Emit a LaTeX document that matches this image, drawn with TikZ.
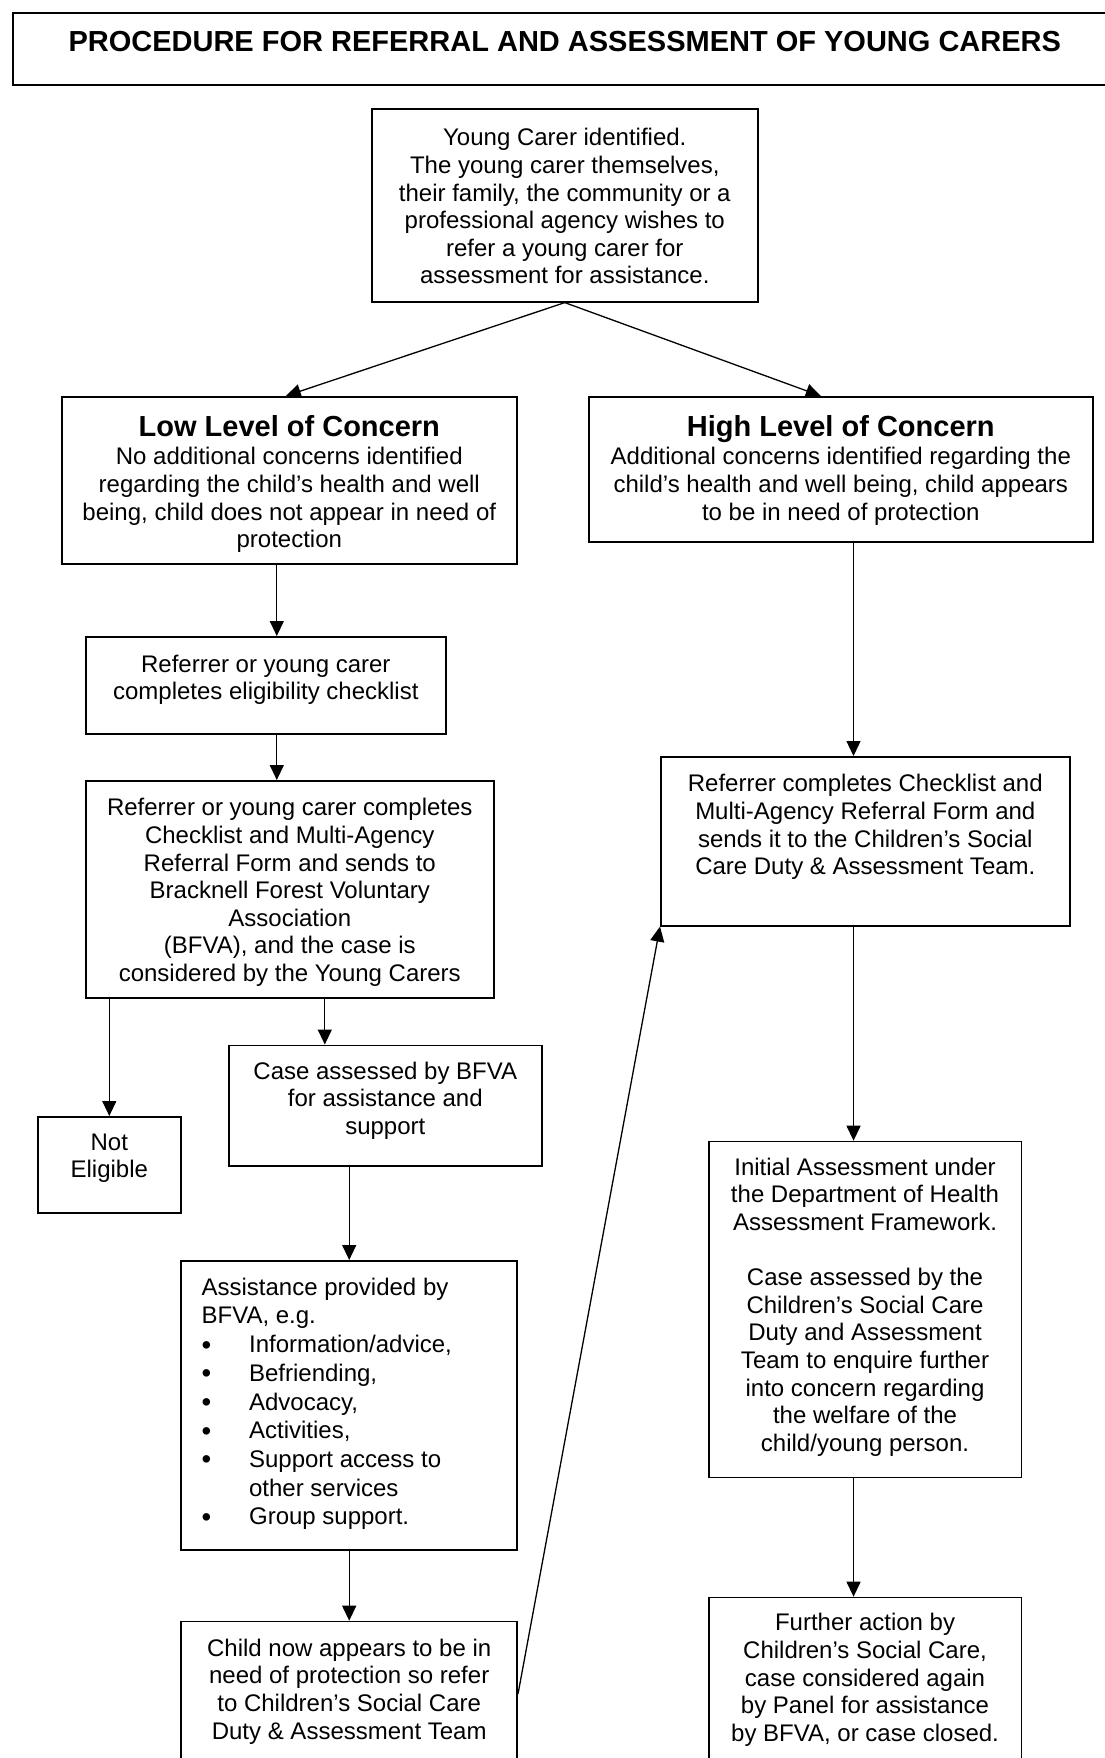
\documentclass[tikz,border=0pt]{standalone}
\usepackage{fontspec}
\usepackage{graphicx}
\setmainfont{Liberation Sans}
\usetikzlibrary{arrows.meta}
% box text: width, height, top gap, text
\newcommand{\flowtext}[4]{\parbox[c][#2pt][t]{#1pt}{\centering\vspace*{#3pt}#4}}
\newcommand{\flowhead}[1]{{\bfseries\fontsize{29}{33}\selectfont #1\par}\vspace{1pt}}
\newcommand{\flowitem}{\makebox[47.5pt][l]{\raisebox{-1.5pt}{\scalebox{1.15}{\textbullet}}}}
\tikzset{
  flow/.style={draw, line width=1.6pt, inner sep=0pt, anchor=north west},
  arr/.style={line width=1.3pt, -{Triangle[length=15pt,width=14pt]}},
}
\begin{document}
\begin{tikzpicture}[x=1pt, y=-1pt, font=\fontsize{24}{27.6}\selectfont]
\useasboundingbox (0,0) rectangle (1105,1758);
\clip (0,0) rectangle (1105,1758);
% title
\node[flow] (title) at (12,12) {\flowtext{1104}{72}{18.5}{\bfseries\fontsize{29}{33}\selectfont PROCEDURE FOR REFERRAL AND ASSESSMENT OF YOUNG CARERS}};
\node[flow] (young) at (371,108) {\flowtext{386}{193}{19.7}{Young Carer identified.\\The young carer themselves,\\their family, the community or a\\professional agency wishes to\\refer a young carer for\\assessment for assistance.}};
% left side
\node[flow] (low) at (61,396) {\flowtext{455}{167}{18.4}{\flowhead{Low Level of Concern}No additional concerns identified\\regarding the child’s health and well\\being, child does not appear in need of\\protection}};
\node[flow] (elig) at (85,636) {\flowtext{360}{97}{18.2}{Referrer or young carer\\completes eligibility checklist}};
\node[flow] (bfva) at (85,780) {\flowtext{408}{217}{17.7}{Referrer or young carer completes\\Checklist and Multi-Agency\\Referral Form and sends to\\Bracknell Forest Voluntary\\Association\\(BFVA), and the case is\\considered by the Young Carers}};
\node[flow] (noteli) at (37,1116) {\flowtext{143}{96}{16.7}{Not\\Eligible}};
\node[flow] (case) at (228,1044.5) {\flowtext{313}{120.5}{16.5}{Case assessed by BFVA\\for assistance and\\support}};
\node[flow] (assist) at (180.4,1260) {\flowtext{336}{289}{17}{\raggedright\leftskip=20.4pt\baselineskip=28.7pt
  Assistance provided by\\BFVA, e.g.\\
  \flowitem Information/advice,\\
  \flowitem Befriending,\\
  \flowitem Advocacy,\\
  \flowitem Activities,\\
  \flowitem Support access to\\
  \hspace*{47.5pt}other services\\
  \flowitem Group support.}};
\node[flow] (child) at (180.4,1620.7) {\flowtext{336}{145}{17.3}{Child now appears to be in\\need of protection so refer\\to Children’s Social Care\\Duty \& Assessment Team}};
% right side
\node[flow] (high) at (588,396) {\flowtext{504}{145}{18.4}{\flowhead{High Level of Concern}Additional concerns identified regarding the\\child’s health and well being, child appears\\to be in need of protection}};
\node[flow] (referral) at (660,756) {\flowtext{409}{169}{17.6}{Referrer completes Checklist and\\Multi-Agency Referral Form and\\sends it to the Children’s Social\\Care Duty \& Assessment Team.}};
\node[flow] (initial) at (708,1140.7) {\flowtext{312.5}{336}{16.3}{Initial Assessment under\\the Department of Health\\Assessment Framework.\\[27.6pt]Case assessed by the\\Children’s Social Care\\Duty and Assessment\\Team to enquire further\\into concern regarding\\the welfare of the\\child/young person.}};
\node[flow] (further) at (708,1596.7) {\flowtext{312.5}{180}{15.9}{Further action by\\Children’s Social Care,\\case considered again\\by Panel for assistance\\by BFVA, or case closed.}};
% connectors
\draw[arr] (young.south) -- ([xshift=-3.5pt]low.north);
\draw[arr] (young.south) -- ([xshift=-20pt]high.north);
\draw[arr] ([xshift=-12.5pt]low.south) -- ([xshift=-12.5pt]low.south |- elig.north);
\draw[arr] ([xshift=11pt]elig.south) -- ([xshift=11pt]elig.south |- bfva.north);
\draw[arr] (noteli.north |- bfva.south) -- (noteli.north);
\draw[arr] ([xshift=-60.5pt]case.north |- bfva.south) -- ([xshift=-60.5pt]case.north);
\draw[arr] (assist.north |- case.south) -- (assist.north);
\draw[arr] (assist.south) -- (child.north);
\draw[arr] (child.east) -- (referral.south west);
\draw[arr] ([xshift=12.7pt]high.south) -- ([xshift=12.7pt]high.south |- referral.north);
\draw[arr] ([xshift=-11.5pt]initial.north |- referral.south) -- ([xshift=-11.5pt]initial.north);
\draw[arr] ([xshift=-11.5pt]further.north |- initial.south) -- ([xshift=-11.5pt]further.north);
\end{tikzpicture}
\end{document}
